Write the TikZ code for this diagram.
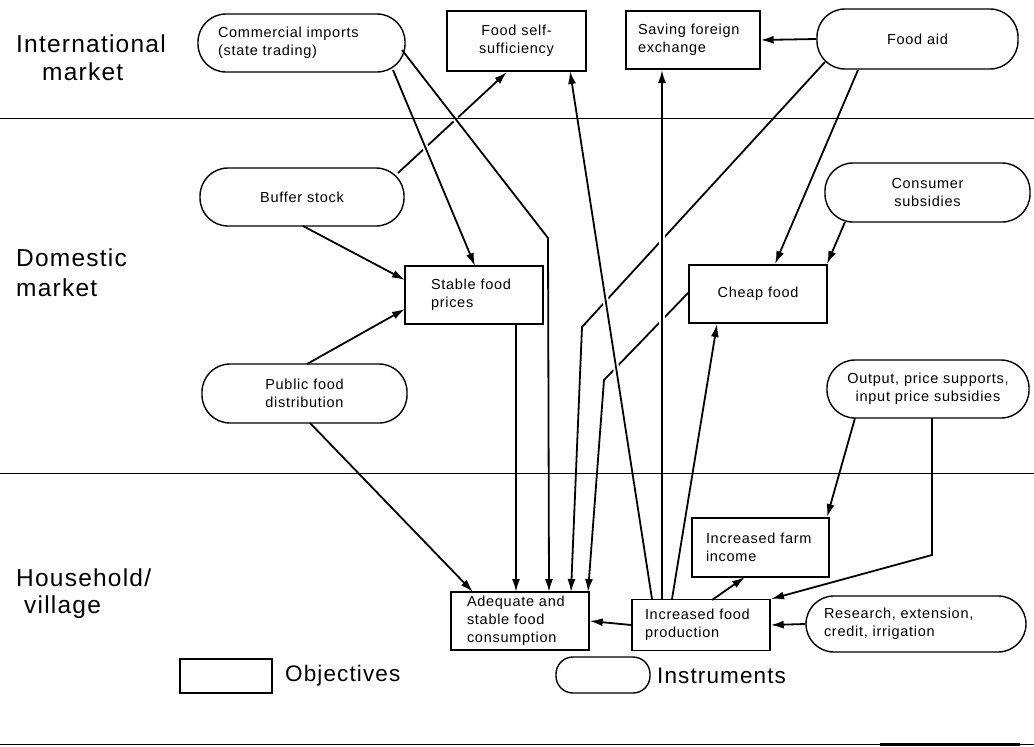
\documentclass[tikz,border=0pt]{standalone}
\usepackage{fontspec}
\setmainfont{Liberation Sans}[LetterSpace=5]
\usetikzlibrary{arrows.meta}
\hyphenpenalty=10000
\exhyphenpenalty=10000
\begin{document}
\begin{tikzpicture}[x=1pt,y=-1pt,
  every node/.style={font=\fontsize{14.5}{18}\selectfont},
  obj/.style={draw, line width=1.4pt, rectangle, inner ysep=0pt},
  inst/.style={draw, line width=1.4pt, rectangle, rounded corners=28pt, inner ysep=0pt},
  lbl/.style={font=\fontsize{24.5}{28}\selectfont, anchor=west, inner sep=0pt},
  conn/.style={line width=1.8pt, -{Latex[length=13pt,width=8pt]}},
  over/.style={preaction={draw=white, line width=6pt, shorten >=14pt, shorten <=14pt, arrows=-}},
  sep/.style={line width=1pt}
]
\useasboundingbox (0,0) rectangle (1034,747);

% labels
\node[lbl] (l1a) at (16,44) {International};
\node[lbl] (l1b) at (42,72) {market};
\node[lbl] (l2a) at (16,258) {Domestic};
\node[lbl] (l2b) at (16,288) {market};
\node[lbl] (l3a) at (16,578) {Household/};
\node[lbl] (l3b) at (24,607) {village};

% nodes
\node[inst, text width=167pt, inner xsep=20pt, minimum height=58pt, align=left] (ci) at (301.5,43) {Commercial imports\\(state trading)};
\node[obj, text width=119pt, inner xsep=10pt, minimum height=60pt, align=center] (fss) at (516.5,41) {Food self-\\sufficiency};
\node[obj, text width=110pt, inner xsep=12pt, minimum height=58pt, align=left] (sfe) at (693,40) {Saving foreign\\exchange};
\node[inst, text width=161pt, inner xsep=20pt, minimum height=60pt, align=center] (fa) at (917.5,39) {Food aid};
\node[inst, text width=164pt, inner xsep=20pt, minimum height=58pt, align=center] (bs) at (302,197) {Buffer stock};
\node[obj, text width=86pt, inner xsep=26pt, minimum height=58pt, align=left] (sfp) at (474,295) {Stable food\\prices};
\node[obj, text width=118pt, inner xsep=10pt, minimum height=58pt, align=center] (cf) at (758,294) {Cheap food};
\node[inst, text width=165pt, inner xsep=20pt, minimum height=59pt, align=center] (cs) at (927.5,192.5) {Consumer\\subsidies};
\node[inst, text width=165pt, inner xsep=20pt, minimum height=59pt, align=center] (pfd) at (304.5,393.5) {Public food\\distribution};
\node[inst, text width=180pt, inner xsep=11pt, minimum height=58pt, align=center] (ops) at (928,389) {Output, price supports,\\input price subsidies};
\node[obj, text width=109pt, inner xsep=14pt, minimum height=59pt, align=left] (ifi) at (760.5,547.5) {Increased farm\\income};
\node[obj, text width=112pt, inner xsep=13pt, minimum height=51pt, align=left] (ifp) at (701,625) {Increased food\\production};
\node[obj, text width=106pt, inner xsep=16pt, minimum height=58pt, align=left] (asc) at (520,621) {Adequate and\\stable food\\consumption};
\node[inst, text width=184pt, inner xsep=18pt, minimum height=56pt, align=left] (rei) at (916,624) {Research, extension,\\credit, irrigation};

% legend
\node[obj, minimum width=92pt, minimum height=34pt] (lo) at (226,676) {};
\node[lbl, font=\fontsize{22.5}{26}\selectfont] (lot) at (285,676) {Objectives};
\node[inst, rounded corners=17pt, minimum width=94pt, minimum height=36pt] (li) at (603,675) {};
\node[lbl, font=\fontsize{22.5}{26}\selectfont] (lit) at (657,676) {Instruments};

% coordinates for bends
\coordinate (b1) at (548,238);
\coordinate (b2) at (582,327);
\coordinate (b3) at (604,380);
\coordinate (b4) at (932,555);

% under lines
\draw[conn] (398,173) -- (507,72);
\draw[conn] (825,62) -- (b2) -- (571,592);
\draw[conn] (689,292) -- (b3) -- (588,592);

% over lines
\draw[conn, over] (393,70) -- (475,266);
\draw[conn, over] (402,50) -- (b1) -- (549,592);
\draw[conn, over] (652,599) -- (570,71);
\draw[conn, over] (662,599) -- (662,70);

% other connectors
\draw[conn] (fa.west) -- (sfe.east);
\draw[conn] (303,226) -- (405,280);
\draw[conn] (307,364) -- (405,309);
\draw[conn] (310,423) -- (473,592);
\draw[conn] (516,324) -- (516,592);
\draw[conn] (858,70) -- (775,264);
\draw[conn] (845,222) -- (827,264);
\draw[conn] (672,599) -- (717,324);
\draw[conn] (712,600) -- (745,577);
\draw[conn] (855,418) -- (827,517);
\draw[conn] (932,418) -- (b4) -- (771,599);
\draw[conn] (rei.west) -- (ifp.east);
\draw[conn] (ifp.west) -- (asc.east);

% separators
\draw[sep] (0,118) -- (1034,118);
\draw[sep] (0,473) -- (1034,473);
\draw[sep] (0,744) -- (1034,744);
\draw[line width=3pt] (880,744) -- (1020,744);
\end{tikzpicture}
\end{document}
